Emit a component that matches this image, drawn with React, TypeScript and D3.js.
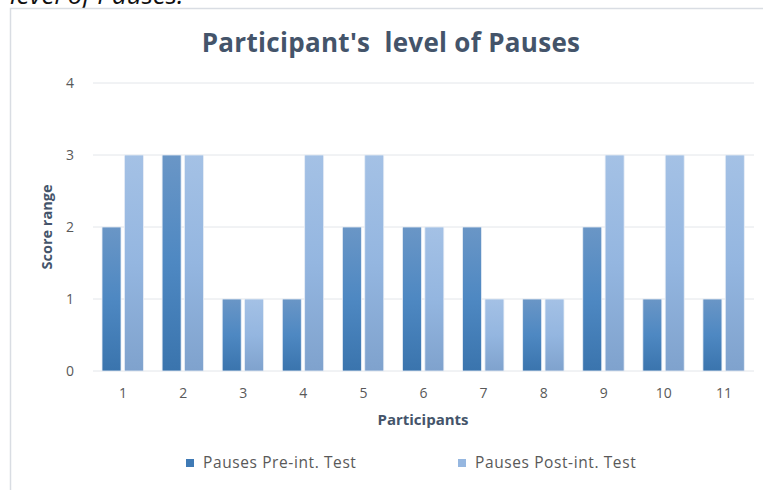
import React from 'react';
import * as d3 from 'd3';

const participants = ['1', '2', '3', '4', '5', '6', '7', '8', '9', '10', '11'];
const preTest = [2, 3, 1, 1, 2, 2, 2, 1, 2, 1, 1];
const postTest = [3, 3, 1, 3, 3, 2, 1, 1, 3, 3, 3];
const yTicks = [0, 1, 2, 3, 4];
const seriesNames = ['Pauses Pre-int. Test', 'Pauses Post-int. Test'];

const W = 763;
const H = 490;
const plot = { left: 93, right: 754, top: 83, bottom: 371 };
const font = '"Open Sans", "DejaVu Sans", sans-serif';

const App = () => {
  const x = d3.scaleBand<string>()
    .domain(participants)
    .range([plot.left, plot.right])
    .paddingInner(0)
    .paddingOuter(0);

  const y = d3.scaleLinear()
    .domain([0, 4])
    .range([plot.bottom, plot.top]);

  const bw = x.bandwidth();
  const barW = 19;
  const inner = d3.scaleBand<number>()
    .domain([0, 1])
    .range([bw * 0.15, bw * 0.85])
    .paddingInner(0.12);

  return (
    <svg width={W} height={H} style={{ position: 'absolute', left: 0, top: 0, background: '#fff' }}>
      <defs>
        <linearGradient id="gPre" x1="0" y1="0" x2="0" y2="1">
          <stop offset="0" stopColor="#6a96c6" />
          <stop offset="0.5" stopColor="#4e88c2" />
          <stop offset="1" stopColor="#3a74ad" />
        </linearGradient>
        <linearGradient id="gPost" x1="0" y1="0" x2="0" y2="1">
          <stop offset="0" stopColor="#a4c1e5" />
          <stop offset="0.5" stopColor="#94b6e0" />
          <stop offset="1" stopColor="#7fa2cd" />
        </linearGradient>
      </defs>

      {/* cropped caption above the chart */}
      <text x={10} y={4} fontFamily={font} fontStyle="italic" fontSize={26} fill="#111">level of Pauses.</text>

      {/* chart frame */}
      <rect x={10.5} y={8.5} width={W} height={H} fill="#fff" stroke="#d9dde3" strokeWidth={1.5} />

      <text x={391} y={52} textAnchor="middle" fontFamily={font} fontWeight="bold" fontSize={26}
        letterSpacing={0.3} fill="#44546a" style={{ whiteSpace: 'pre' }}>
        {"Participant's  level of Pauses"}
      </text>

      {yTicks.map(t => (
        <g key={t}>
          <line x1={plot.left} x2={plot.right} y1={y(t)} y2={y(t)} stroke="#e3e6ea" strokeWidth={1} />
          <text x={70} y={y(t)} dy="0.35em" textAnchor="middle" fontFamily={font} fontSize={14} fill="#595959">{t}</text>
        </g>
      ))}

      {participants.map((p, i) => {
        const x0 = x(p)!;
        const vals = [preTest[i], postTest[i]];
        return (
          <g key={p}>
            {vals.map((v, j) => (
              <rect key={j}
                x={x0 + inner(j)!}
                y={y(v)}
                width={Math.min(barW, inner.bandwidth())}
                height={y(0) - y(v)}
                fill={j === 0 ? 'url(#gPre)' : 'url(#gPost)'}
                stroke="#e8eef6" strokeWidth={0.8} />
            ))}
            <text x={x0 + bw / 2} y={398} textAnchor="middle" fontFamily={font} fontSize={14} fill="#595959">{p}</text>
          </g>
        );
      })}

      <text x={423} y={425} textAnchor="middle" fontFamily={font} fontWeight="bold" fontSize={15} fill="#44546a">Participants</text>
      <text transform={`translate(52,${y(2)}) rotate(-90)`} textAnchor="middle" fontFamily={font} fontWeight="bold" fontSize={14.5} fill="#44546a">Score range</text>

      {seriesNames.map((s, i) => {
        const lx = i === 0 ? 186 : 458;
        return (
          <g key={s}>
            <rect x={lx} y={459} width={8} height={8} fill={i === 0 ? '#3f7ab5' : '#96b7e0'} />
            <text x={lx + 17} y={468} fontFamily={font} fontSize={15.5} letterSpacing={0.6} fill="#595959">{s}</text>
          </g>
        );
      })}
    </svg>
  );
};

export default App;
